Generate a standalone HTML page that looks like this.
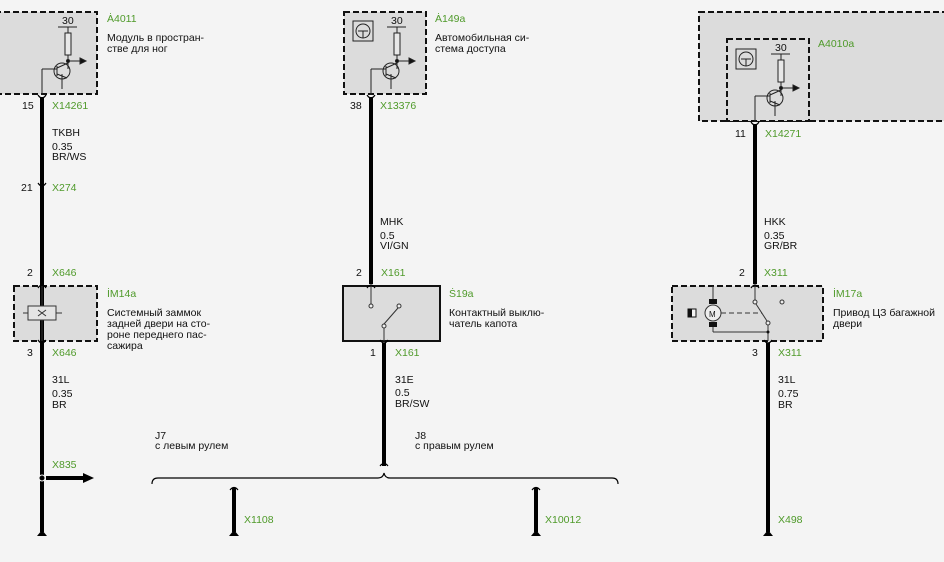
<!DOCTYPE html>
<html><head><meta charset="utf-8"><style>
html,body{margin:0;padding:0;background:#f4f4f4;}
svg{display:block;}
text{font-family:"Liberation Sans",sans-serif;font-size:10.5px;fill:#111;}
.g{fill:#4f9a2a;}
</style></head><body>
<svg width="944" height="562" viewBox="0 0 944 562" xmlns="http://www.w3.org/2000/svg">
<rect width="944" height="562" fill="#f4f4f4"/>
<g stroke="#111" stroke-width="2" stroke-dasharray="6,3" fill="#dcdcdc">
<rect x="-5" y="12" width="102" height="82"/>
<rect x="344" y="12" width="82" height="82"/>
<rect x="699" y="12" width="400" height="109"/>
<rect x="727" y="39" width="82" height="82"/>
<rect x="14" y="286" width="83" height="55"/>
<rect x="672" y="286" width="151" height="55"/>
</g>
<rect x="343" y="286" width="97" height="55" fill="#dcdcdc" stroke="#111" stroke-width="2"/>

<g id="tr" stroke="#222" stroke-width="1" fill="none">
<line x1="58" y1="27" x2="77" y2="27"/>
<line x1="68" y1="27" x2="68" y2="33"/>
<rect x="65" y="33" width="6" height="22" fill="#e8e8e8"/>
<line x1="68" y1="55" x2="68" y2="69"/>
<line x1="68" y1="61" x2="80" y2="61"/>
<polygon points="80,58 86,61 80,64" fill="#111"/>
<circle cx="68" cy="61" r="1.5" fill="#111"/>
<circle cx="62" cy="71" r="8"/>
<line x1="57" y1="66" x2="57" y2="76"/>
<line x1="42" y1="69" x2="57" y2="69"/>
<line x1="57" y1="68" x2="68" y2="63"/>
<line x1="57" y1="74" x2="67" y2="78"/>
<line x1="62" y1="74" x2="62" y2="89"/>
<line x1="42" y1="69" x2="42" y2="95"/>
</g>
<text x="62" y="24">30</text>
<use href="#tr" transform="translate(329,0)"/>
<text x="391" y="24">30</text>
<use href="#tr" transform="translate(713,27)"/>
<text x="775" y="51">30</text>
<g stroke="#222" stroke-width="1" fill="none">
<rect x="353" y="21" width="20" height="20"/><circle cx="363" cy="31" r="7"/><line x1="358" y1="31" x2="368" y2="31"/><line x1="363" y1="31" x2="363" y2="38"/>
<rect x="736" y="49" width="20" height="20"/><circle cx="746" cy="59" r="7"/><line x1="741" y1="59" x2="751" y2="59"/><line x1="746" y1="59" x2="746" y2="66"/>
</g>

<g stroke="#000" stroke-width="4" fill="none">
<line x1="42" y1="97" x2="42" y2="532"/>
<line x1="371" y1="97" x2="371" y2="284"/>
<line x1="384" y1="343" x2="384" y2="466"/>
<line x1="755" y1="124" x2="755" y2="284"/>
<line x1="768" y1="343" x2="768" y2="532"/>
<line x1="234" y1="488" x2="234" y2="532"/>
<line x1="536" y1="488" x2="536" y2="532"/>
<line x1="46" y1="478" x2="84" y2="478"/>
</g>
<polygon points="83,473 94,478 83,483" fill="#000"/>
<circle cx="42" cy="478" r="3" fill="#000" stroke="#f4f4f4" stroke-width="1"/>
<g fill="#000"><polygon points="37,536 47,536 42,530"/><polygon points="229,536 239,536 234,530"/><polygon points="531,536 541,536 536,530"/><polygon points="763,536 773,536 768,530"/></g>
<g stroke="#000" stroke-width="1.2" fill="none">
<path d="M38,95 q4,6 8,0 M38,183 q4,6 8,0 M38,288 q4,-6 8,0 M38,340 q4,6 8,0 M367,95 q4,6 8,0 M367,288 q4,-6 8,0 M380,340 q4,6 8,0 M751,122 q4,6 8,0 M751,288 q4,-6 8,0 M764,340 q4,6 8,0"/>
<path d="M152,484 q0,-6 6,-6 H378 q5,0 6,-5 q1,5 6,5 H612 q6,0 6,6"/>
<path d="M380,466 q4,-5 8,0 M230,490 q4,-5 8,0 M532,490 q4,-5 8,0"/>
</g>
<g stroke="#333" stroke-width="1" fill="none">
<line x1="42" y1="286" x2="42" y2="341"/>
<line x1="23" y1="313" x2="62" y2="313"/>
<rect x="28" y="306" width="28" height="14" fill="#e4e4e4"/>
<path d="M38,310 l8,6 M46,310 l-8,6"/>
<line x1="371" y1="286" x2="371" y2="304"/>
<circle cx="371" cy="306" r="2" fill="#eee"/>
<line x1="384" y1="324" x2="398" y2="308"/>
<circle cx="384" cy="326" r="2" fill="#eee"/>
<circle cx="399" cy="306" r="2" fill="#eee"/>
<line x1="384" y1="328" x2="384" y2="341"/>
<line x1="713" y1="286" x2="713" y2="301"/>
<circle cx="713" cy="313" r="8" fill="#eee"/>
<line x1="713" y1="325" x2="713" y2="332"/>
<line x1="713" y1="332" x2="768" y2="332"/>
<line x1="755" y1="286" x2="755" y2="300"/>
<circle cx="755" cy="302" r="2" fill="#eee"/>
<line x1="756" y1="304" x2="767" y2="321"/>
<circle cx="768" cy="323" r="2" fill="#eee"/>
<line x1="768" y1="325" x2="768" y2="341"/>
<circle cx="782" cy="302" r="2" fill="#eee"/>
<line x1="721" y1="313" x2="762" y2="313" stroke-dasharray="5,3"/>
</g>
<rect x="709" y="299" width="8" height="5" fill="#111"/><rect x="709" y="322" width="8" height="5" fill="#111"/>
<circle cx="768" cy="332" r="1.5" fill="#111"/>
<text x="709" y="317" style="font-size:8px">M</text>
<rect x="688" y="309" width="8" height="8" fill="#f4f4f4" stroke="#111"/><rect x="688" y="309" width="4" height="8" fill="#111"/>

<text class="g" x="107" y="22">Ȧ4011</text>
<text x="107" y="41">Модуль в простран-</text><text x="107" y="52">стве для ног</text>
<text x="22" y="109">15</text><text class="g" x="52" y="109">X14261</text>
<text x="52" y="136">TKBH</text><text x="52" y="150">0.35</text><text x="52" y="160">BR/WS</text>
<text x="21" y="191">21</text><text class="g" x="52" y="191">X274</text>
<text x="27" y="276">2</text><text class="g" x="52" y="276">X646</text>
<text class="g" x="107" y="297">İM14a</text>
<text x="107" y="316">Системный заммок</text><text x="107" y="327">задней двери на сто-</text><text x="107" y="338">роне переднего пас-</text><text x="107" y="349">сажира</text>
<text x="27" y="356">3</text><text class="g" x="52" y="356">X646</text>
<text x="52" y="383">31L</text><text x="52" y="397">0.35</text><text x="52" y="408">BR</text>
<text class="g" x="52" y="468">X835</text>
<text x="155" y="439">J7</text><text x="155" y="449">с левым рулем</text>
<text class="g" x="244" y="523">X1108</text>
<text class="g" x="545" y="523">X10012</text>

<text class="g" x="435" y="22">Ȧ149a</text>
<text x="435" y="41">Автомобильная си-</text><text x="435" y="52">стема доступа</text>
<text x="350" y="109">38</text><text class="g" x="380" y="109">X13376</text>
<text x="380" y="225">MHK</text><text x="380" y="239">0.5</text><text x="380" y="249">VI/GN</text>
<text x="356" y="276">2</text><text class="g" x="381" y="276">X161</text>
<text class="g" x="449" y="297">Ṡ19a</text>
<text x="449" y="316">Контактный выклю-</text><text x="449" y="327">чатель капота</text>
<text x="370" y="356">1</text><text class="g" x="395" y="356">X161</text>
<text x="395" y="383">31E</text><text x="395" y="396">0.5</text><text x="395" y="407">BR/SW</text>
<text x="415" y="439">J8</text><text x="415" y="449">с правым рулем</text>

<text class="g" x="818" y="47">A4010a</text>
<text x="735" y="137">11</text><text class="g" x="765" y="137">X14271</text>
<text x="764" y="225">HKK</text><text x="764" y="239">0.35</text><text x="764" y="249">GR/BR</text>
<text x="739" y="276">2</text><text class="g" x="764" y="276">X311</text>
<text class="g" x="833" y="297">İM17a</text>
<text x="833" y="316">Привод ЦЗ багажной</text><text x="833" y="327">двери</text>
<text x="752" y="356">3</text><text class="g" x="778" y="356">X311</text>
<text x="778" y="383">31L</text><text x="778" y="397">0.75</text><text x="778" y="408">BR</text>
<text class="g" x="778" y="523">X498</text>
</svg>
</body></html>
